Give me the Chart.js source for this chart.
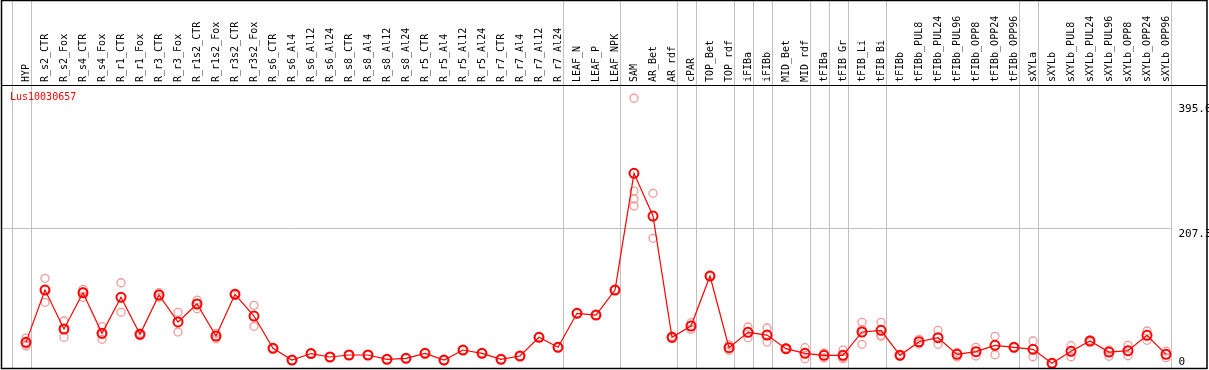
<!DOCTYPE html>
<html>
<head>
<meta charset="utf-8">
<title>Lus10030657</title>
<script src="https://cdn.jsdelivr.net/npm/chart.js@4.4.1/dist/chart.umd.min.js"></script>
<style>
  body { margin: 0; background: #fff; }
  canvas { display: block; }
</style>
</head>
<body>
<canvas id="chart" width="1209" height="370"></canvas>
<script>
const geneName = "Lus10030657";

const samples = [
    "HYP", "R_s2_CTR", "R_s2_Fox", "R_s4_CTR", "R_s4_Fox", "R_r1_CTR", "R_r1_Fox",
    "R_r3_CTR", "R_r3_Fox", "R_r1s2_CTR", "R_r1s2_Fox", "R_r3s2_CTR", "R_r3s2_Fox",
    "R_s6_CTR", "R_s6_Al4", "R_s6_Al12", "R_s6_Al24", "R_s8_CTR", "R_s8_Al4", "R_s8_Al12",
    "R_s8_Al24", "R_r5_CTR", "R_r5_Al4", "R_r5_Al12", "R_r5_Al24", "R_r7_CTR", "R_r7_Al4",
    "R_r7_Al12", "R_r7_Al24", "LEAF_N", "LEAF_P", "LEAF_NPK", "SAM", "AR_Bet", "AR_rdf",
    "cPAR", "TOP_Bet", "TOP_rdf", "iFIBa", "iFIBb", "MID_Bet", "MID_rdf", "tFIBa",
    "tFIB_Gr", "tFIB_Li", "tFIB_Bi", "tFIBb", "tFIBb_PUL8", "tFIBb_PUL24", "tFIBb_PUL96",
    "tFIBb_OPP8", "tFIBb_OPP24", "tFIBb_OPP96", "sXYLa", "sXYLb", "sXYLb_PUL8",
    "sXYLb_PUL24", "sXYLb_PUL96", "sXYLb_OPP8", "sXYLb_OPP24", "sXYLb_OPP96"
];

// mean expression per sample (red line)
const means = [
    34.2, 113.1, 54.3, 109.0, 47.8, 102.1, 46.3, 105.6, 64.9, 92.0, 43.7, 106.6, 73.9,
    25.2, 7.5, 17.3, 12.1, 15.1, 15.1, 8.6, 10.1, 17.6, 7.5, 22.6, 17.6, 8.6, 13.6, 41.8,
    26.7, 78.0, 75.4, 113.1, 289.1, 224.7, 41.8, 58.8, 134.2, 26.1, 49.3, 45.2, 24.6,
    17.6, 14.6, 14.6, 49.8, 52.3, 14.6, 35.1, 41.2, 16.1, 20.1, 29.7, 26.7, 23.7, 2.6,
    20.7, 36.2, 19.6, 21.6, 44.8, 16.1
];

// single replicates (pale circles)
const replicates = [
    [40.7, 31.7, 28.7], [130.8, 113.5, 94.6], [66.4, 54.3, 41.8], [114.2, 110.7, 102.1],
    [57.8, 46.8, 38.8], [124.1, 79.5], [48.0, 46.3, 44.5], [109.0, 102.1], [79.5, 49.8],
    [98.0, 92.5, 84.9], [47.8, 39.7], [108.0, 105.2], [90.0, 58.4],
    [25.6, 24.8], [7.9, 7.1], [17.8, 16.8], [12.5, 11.7], [15.5, 14.7], [15.6, 14.6],
    [9.0, 8.2], [10.5, 9.7], [18.0, 17.2], [7.9, 7.1], [23.0, 22.2], [18.0, 17.2],
    [9.0, 8.2], [14.0, 13.2], [42.3, 41.3], [27.2, 26.2], [78.5, 77.5], [75.9, 74.9],
    [113.6, 112.6], [402.3, 262.4, 250.4, 239.8], [259.0, 191.1], [43.5, 40.1],
    [63.8, 53.8], [134.7, 133.7], [30.2, 22.0], [57.3, 41.3], [55.8, 34.6], [26.0, 23.2],
    [26.1, 9.5], [18.1, 10.6], [22.6, 9.5, 11.7], [64.4, 53.8, 31.2], [64.4, 45.2, 43.3],
    [15.7, 13.5], [38.8, 31.7], [52.3, 31.2], [19.2, 12.1], [26.7, 13.6], [43.3, 15.5],
    [27.5, 26.0], [36.2, 12.5], [3.2, 2.0], [29.1, 12.5], [37.7, 34.7], [22.6, 13.1],
    [29.7, 14.0], [51.3, 37.3], [21.1, 11.0]
];

// gray group separators are drawn just after these sample indices
const separatorsAfter = [-1, 0, 28, 31, 34, 35, 37, 38, 39, 41, 42, 43, 45, 52, 53, 60];

const yTickValues = [0, 207.3, 395.0];
const yTickLabels = ["0", "207.3", "395.0"];

const replicatePoints = replicates.flatMap((reps, i) =>
    reps.map(v => ({ x: samples[i], y: v }))
);

const framePlugin = {
    id: "frame",
    beforeDatasetsDraw(chart) {
        const { ctx, chartArea, scales } = chart;
        const xs = scales.x;
        const step = xs.getPixelForValue(1) - xs.getPixelForValue(0);
        ctx.save();
        ctx.strokeStyle = "#c0c0c0";
        ctx.lineWidth = 1;
        separatorsAfter.forEach(i => {
            const px = Math.round(xs.getPixelForValue(0) + (i + 0.25) * step) + 0.5;
            ctx.beginPath();
            ctx.moveTo(px, 0);
            ctx.lineTo(px, chartArea.bottom);
            ctx.stroke();
        });
        // horizontal grid line at the middle tick
        const gy = Math.round(scales.y.getPixelForValue(yTickValues[1])) + 0.5;
        ctx.beginPath();
        ctx.moveTo(1, gy);
        ctx.lineTo(xs.getPixelForValue(samples.length - 1) + 0.25 * step, gy);
        ctx.stroke();
        ctx.restore();
    },
    afterDraw(chart) {
        const { ctx, chartArea, scales, width } = chart;
        ctx.save();
        // outer frame and header divider
        ctx.strokeStyle = "#000";
        ctx.lineWidth = 1.5;
        ctx.strokeRect(1.5, 0.5, width - 3.5, chartArea.bottom);
        ctx.lineWidth = 1;
        ctx.beginPath();
        ctx.moveTo(1, chartArea.top + 0.5);
        ctx.lineTo(width - 2, chartArea.top + 0.5);
        ctx.stroke();

        // gene name
        ctx.fillStyle = "#ff0000";
        ctx.font = "10px 'DejaVu Sans Mono'";
        ctx.textBaseline = "top";
        ctx.textAlign = "left";
        ctx.fillText(geneName, 10, chartArea.top + 7);

        // y tick labels, text top at the value, kept inside the plot
        ctx.fillStyle = "#000";
        ctx.font = "11px 'DejaVu Sans Mono'";
        yTickValues.forEach((v, i) => {
            let py = scales.y.getPixelForValue(v);
            py = Math.min(py, chartArea.bottom - 12);
            ctx.fillText(yTickLabels[i], chartArea.right + 3, py + 1);
        });
        ctx.restore();
    }
};

new Chart(document.getElementById("chart"), {
    type: "line",
    data: {
        labels: samples,
        datasets: [
            {
                label: "mean",
                data: means,
                borderColor: "#ff0000",
                borderWidth: 1.2,
                pointRadius: 4.5,
                pointBorderWidth: 2,
                pointBorderColor: "#ff0000",
                pointBackgroundColor: "rgba(0,0,0,0)",
                tension: 0
            },
            {
                label: "replicates",
                data: replicatePoints,
                showLine: false,
                pointRadius: 4,
                pointBorderWidth: 1.3,
                pointBorderColor: "#f29a9a",
                pointBackgroundColor: "rgba(0,0,0,0)"
            }
        ]
    },
    options: {
        responsive: false,
        animation: false,
        layout: {
            autoPadding: false,
            padding: { left: 16.5, right: 0, top: 0, bottom: 2 }
        },
        plugins: {
            legend: { display: false },
            tooltip: { enabled: false },
            title: { display: false }
        },
        scales: {
            x: {
                type: "category",
                position: "top",
                offset: true,
                grid: { display: false, drawTicks: false },
                border: { display: false },
                ticks: {
                    autoSkip: false,
                    minRotation: 90,
                    maxRotation: 90,
                    padding: 3,
                    labelOffset: 12,
                    color: "#000",
                    font: { family: "'DejaVu Sans Mono'", size: 10 }
                },
                afterFit(scale) { scale.height = 85; }
            },
            y: {
                position: "right",
                min: -4.5,
                max: 422.3,
                grid: { display: false },
                border: { display: false },
                ticks: { display: false },
                afterBuildTicks(scale) {
                    scale.ticks = yTickValues.map(v => ({ value: v }));
                },
                afterFit(scale) { scale.width = 33.5; }
            }
        }
    },
    plugins: [framePlugin]
});
</script>
</body>
</html>
